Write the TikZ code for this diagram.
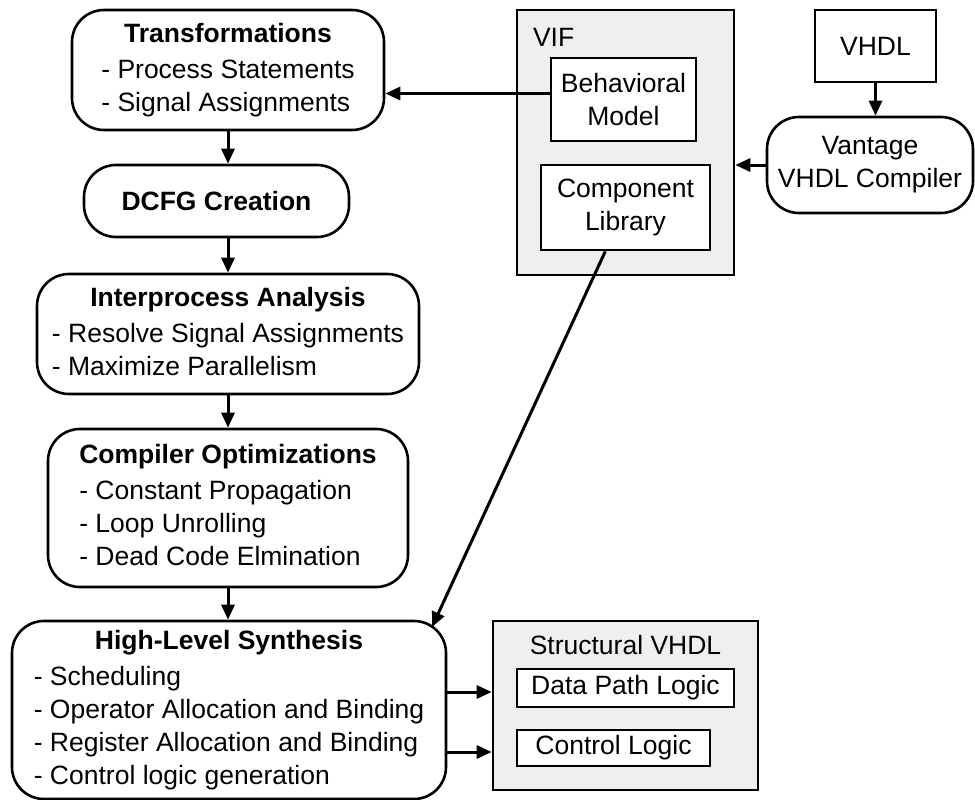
\documentclass[tikz,border=0pt]{standalone}
\usepackage{fontspec}
\setmainfont{Liberation Sans}
\usetikzlibrary{arrows.meta}
\definecolor{boxgray}{HTML}{EFEFEF}
% title centred over a left aligned list
\newcommand{\titled}[2]{\begin{tabular}{@{}l@{}}\multicolumn{1}{@{}c@{}}{\textbf{#1}}\\[3pt] #2\end{tabular}}
\begin{document}
\begin{tikzpicture}[x=1pt,y=-1pt,line width=2.6pt,
    every node/.style={font=\fontsize{26.5}{33}\selectfont,inner sep=0pt},
    flow/.style={draw,rounded corners=32pt,align=center},
    plain/.style={draw,align=center},
    graybox/.style={draw,fill=boxgray},
    conn/.style={-{Triangle[length=15pt,width=13pt]},line width=3pt}]
    \useasboundingbox (0,0) rectangle (975,800);
    % left column
    \node[flow,minimum width=312pt,minimum height=120pt] (trans) at (228,70)
        {\titled{Transformations}{- Process Statements\\ - Signal Assignments}};
    \node[flow,minimum width=265pt,minimum height=72pt] (dcfg) at (216.5,201) {\textbf{DCFG Creation}};
    \node[flow,minimum width=382pt,minimum height=120pt] (inter) at (228,334)
        {\titled{Interprocess Analysis}{- Resolve Signal Assignments\\ - Maximize Parallelism}};
    \node[flow,minimum width=360pt,minimum height=158pt] (comp) at (228,508)
        {\titled{Compiler Optimizations}{- Constant Propagation\\ - Loop Unrolling\\ - Dead Code Elmination}};
    \node[flow,minimum width=434pt,minimum height=178pt] (hls) at (229,710)
        {\titled{High-Level Synthesis}{- Scheduling\\ - Operator Allocation and Binding\\ - Register Allocation and Binding\\ - Control logic generation}};
    % VIF and compiler
    \node[graybox,minimum width=217pt,minimum height=265pt,
        label={[anchor=north west,xshift=16pt,yshift=-18pt]north west:VIF}] (vif) at (625.5,142.5) {};
    \node[plain,fill=white,minimum width=145pt,minimum height=83pt] (behav) at (623.5,99.5) {Behavioral\\ Model};
    \node[plain,fill=white,minimum width=169pt,minimum height=85pt] (complib) at (625.5,207.5) {Component\\ Library};
    \node[plain,minimum width=121pt,minimum height=72pt] (vhdl) at (875.5,46) {VHDL};
    \node[flow,minimum width=206pt,minimum height=96pt] (vantage) at (870,165) {Vantage\\ VHDL Compiler};
    % output
    \node[graybox,minimum width=265pt,minimum height=169pt,
        label={[anchor=north,yshift=-14pt]north:Structural VHDL}] (struct) at (625.5,705.5) {};
    \node[plain,fill=white,minimum width=217pt,minimum height=38pt] (dpl) at (625.5,688) {Data Path Logic};
    \node[plain,fill=white,minimum width=193pt,minimum height=36pt] (ctrl) at (613.5,748) {Control Logic};
    \coordinate (hlsin) at (432,627);
    % connectors
    \draw[conn] (trans.south) -- (trans.south |- dcfg.north);
    \draw[conn] (dcfg.south -| inter.north) -- (inter.north);
    \draw[conn] (inter.south) -- (comp.north);
    \draw[conn] (comp.south) -- (comp.south |- hls.north);
    \draw[conn] ([yshift=6pt]behav.west) -- ([yshift=6pt]behav.west -| trans.east);
    \draw[conn] (vhdl.south) -- (vhdl.south |- vantage.north);
    \draw[conn] (vantage.west) -- (vantage.west -| vif.east);
    \draw[conn] (complib) -- (hlsin);
    \draw[conn] ([yshift=-4pt]dpl.west -| hls.east) -- ([yshift=-4pt]dpl.west -| struct.west);
    \draw[conn] ([yshift=-4pt]ctrl.west -| hls.east) -- ([yshift=-4pt]ctrl.west -| struct.west);
\end{tikzpicture}
\end{document}
